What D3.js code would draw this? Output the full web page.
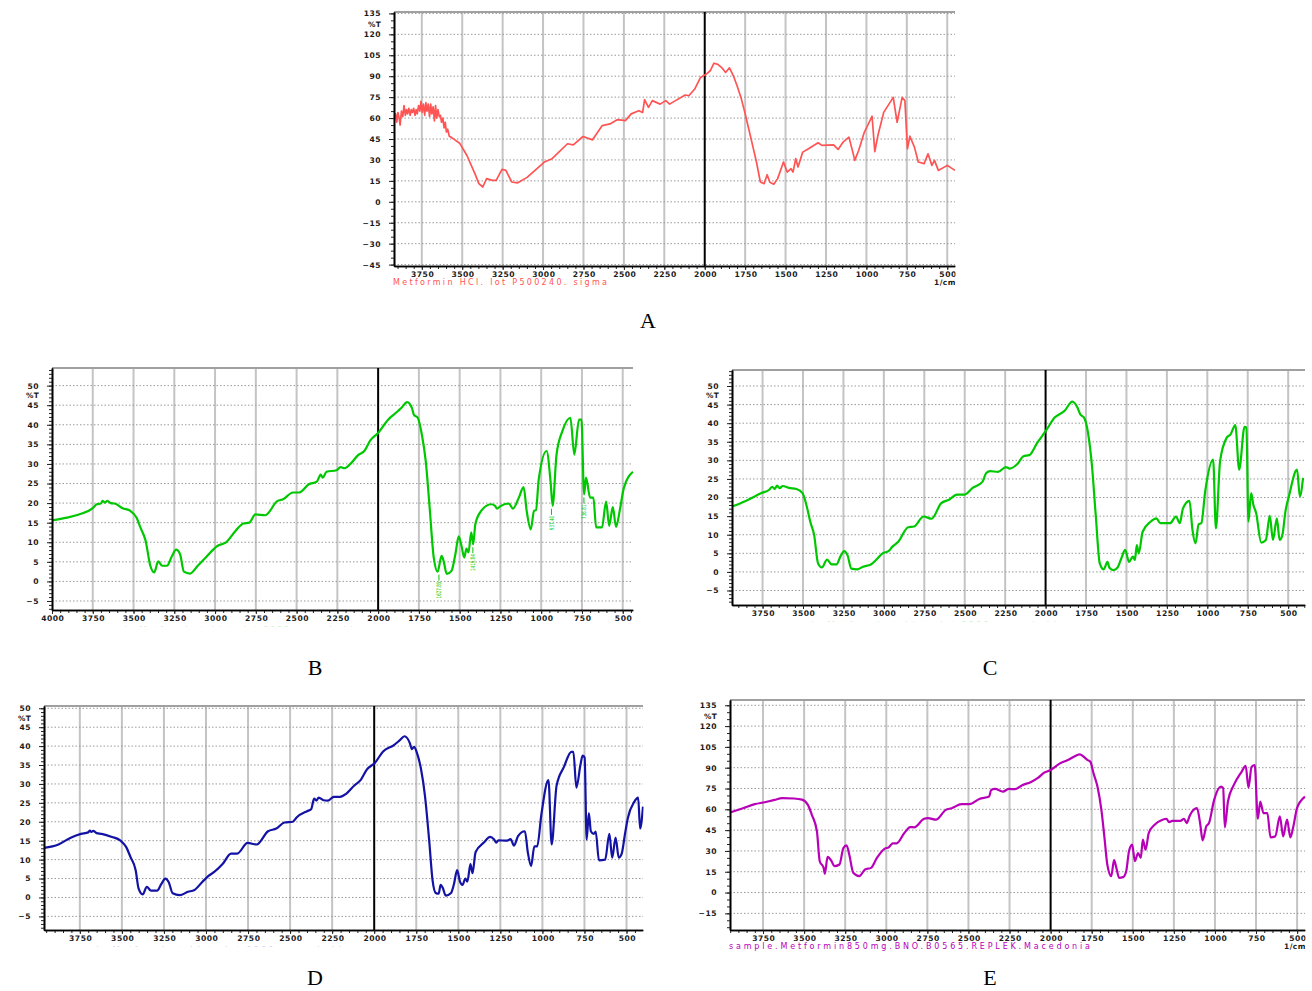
<!DOCTYPE html>
<html>
<head>
<meta charset="utf-8">
<script src="https://cdn.jsdelivr.net/npm/d3@7"></script>
<style>
  body { margin: 0; background: #fff; }
  svg { display: block; }
</style>
</head>
<body>
<svg id="graf" width="1312" height="991"></svg>
<script>

//#######################################
//   datos: espectros IR (cm-1, %T)
//#######################################

// A: Metformin HCl (estandar)
const specA = [
  [3920,59],[3912,63],[3905,57],[3898,64],[3890,60],[3884,55],[3876,65],[3868,61],[3860,69],[3852,62],
  [3845,66],[3838,63],[3830,67],[3822,62],[3815,66],[3808,64],[3800,67],[3792,62],[3785,66],[3778,63],
  [3770,69],[3762,65],[3755,72],[3748,64],[3740,70],[3732,62],[3725,71],[3718,65],[3710,70],[3702,61],
  [3695,70],[3688,63],[3680,68],[3672,58],[3665,69],[3658,60],[3650,66],[3642,61],[3635,62],[3628,57],
  [3620,60],[3612,53],[3605,57],[3598,50],[3590,52],[3580,47],[3565,46],
  [3516,42],[3470,33],[3421,20],[3397,13],[3373,10.6],[3349,16.6],[3314,15.4],[3290,15.4],[3254,23.2],
  [3230,22.5],[3194,14.2],[3159,13.5],[3099,17.5],[2992,28.5],[2944,30.9],[2849,41.6],[2813,40.8],
  [2753,46.8],[2694,44.4],[2634,54.6],[2586,55.8],[2539,58.9],[2491,58.2],[2455,63],[2408,65.3],
  [2384,64],[2372,73.2],[2348,67.7],[2324,72.5],[2276,70],[2241,72.5],[2217,70],[2181,72.5],
  [2121,76.5],[2098,76],[2062,80.8],[2026,89.1],[1990,91.5],[1966,93.9],[1943,99.3],[1919,98.5],
  [1895,96.2],[1871,92.7],[1847,96],[1823,90.3],[1800,83.2],[1776,74.8],[1752,64.1],[1728,52.3],
  [1704,40.4],[1680,28.5],[1656,14.2],[1633,13],[1614,19.4],[1597,14],[1573,12.6],[1549,16.6],
  [1513,28.5],[1490,21.3],[1466,23.7],[1454,21.3],[1437,30.9],[1423,25],[1394,35.6],[1358,38],
  [1299,42.3],[1275,40.4],[1203,40.8],[1175,37.5],[1144,42.8],[1108,46.3],[1084,35.6],[1072,29.7],
  [1048,36.8],[1013,49.8],[965,61.3],[948,36],[929,47.5],[893,64.1],[834,74.8],[810,57],[779,74.8],
  [762,72.5],[746,38],[731,47],[703,39.2],[679,28.5],[643,27.4],[619,34.4],[595,26.1],[579,29.7],
  [555,22.5],[500,26.1],[452,22.5]
]

// B: muestra (verde, con picos marcados)
const specB = [
  [4000,15.6],[3908,16.3],[3835,17.1],[3750,18.7],[3725,19.7],[3700,19.9],[3690,20.6],[3677,20.1],
  [3660,20.6],[3640,20],[3616,19.9],[3567,18.7],[3519,18],[3482,16.3],[3458,13.8],[3426,10.4],
  [3397,4],[3373,2.3],[3349,5.1],[3324,4],[3295,4],[3264,6.5],[3239,8.1],[3215,7],[3191,2.5],
  [3154,2],[3106,4],[3057,6.1],[2984,9.1],[2935,9.9],[2875,12.9],[2826,14.8],[2790,15],[2753,17.1],
  [2692,16.9],[2619,20.5],[2583,21],[2522,22.7],[2486,22.7],[2425,24.8],[2376,25.5],[2352,27.3],
  [2340,26.5],[2316,28],[2255,28.4],[2230,29.2],[2206,28.9],[2170,30],[2121,32.3],[2085,33.3],
  [2048,36],[2000,37.9],[1939,41.3],[1878,43.5],[1854,44.5],[1822,45.8],[1793,44.3],[1781,42.6],
  [1757,41.8],[1732,37.5],[1708,30.7],[1684,18.8],[1659,6.1],[1635,2.5],[1611,6.5],[1599,5.3],
  [1579,1.9],[1550,2.7],[1526,7],[1506,11.5],[1489,9.1],[1472,6.1],[1458,8.4],[1446,7.4],
  [1429,12.5],[1417,9.5],[1404,14.6],[1368,18],[1307,19.7],[1283,19.3],[1271,18.6],[1247,19.3],
  [1198,19.9],[1174,18.6],[1137,21.4],[1108,24.1],[1089,18],[1064,13.3],[1044,18],[1032,18.2],
  [1015,26.1],[967,33.3],[942,25.2],[930,19.3],[906,32.4],[870,38.4],[821,41.8],[797,32.4],
  [768,41.3],[753,41.3],[737,22.2],[725,26.5],[700,21.4],[680,21.4],[663,13.8],[627,13.8],
  [602,20.4],[583,14.2],[561,19],[541,13.9],[517,18.4],[493,23.9],[437,28]
]

// C: muestra (verde)
const specC = [
  [3939,17.6],[3854,19.1],[3757,21.2],[3709,22.1],[3690,22.9],[3675,22.3],[3660,23.2],[3645,22.5],
  [3625,23.1],[3588,22.6],[3540,22.3],[3503,21.2],[3479,18],[3455,13.5],[3431,9.9],[3407,2.3],
  [3383,1.2],[3351,3.3],[3322,2],[3293,2],[3269,4.1],[3245,5.6],[3225,4.5],[3201,0.9],[3165,0.7],
  [3129,1.4],[3080,2],[3044,3.4],[3008,5],[2971,5.6],[2947,6.8],[2911,8.1],[2850,12],[2814,12.2],
  [2754,14.9],[2705,14.3],[2645,18.5],[2597,19.4],[2548,20.8],[2500,20.8],[2451,22.6],[2391,24.2],
  [2367,26.6],[2343,27.1],[2294,26.9],[2246,28.2],[2222,27.8],[2173,29.1],[2137,31.1],[2101,31.4],
  [2052,34.7],[1999,37.9],[1944,41.5],[1883,43.3],[1835,45.8],[1803,44.2],[1786,42.4],[1762,41.5],
  [1738,37.5],[1714,28.9],[1690,15.3],[1665,2.3],[1641,0.7],[1617,2.7],[1605,1.1],[1581,0.5],
  [1556,1.1],[1532,3.6],[1508,5.9],[1484,2.7],[1460,4.1],[1448,3.2],[1436,7.2],[1424,5],
  [1400,10.8],[1351,13.5],[1315,14.4],[1291,13.1],[1230,13.1],[1194,14.9],[1170,13.1],[1151,17],
  [1110,19.1],[1093,11.7],[1073,7.7],[1054,12.8],[1037,13.1],[1013,21.7],[964,30.2],[947,11.7],
  [921,29.8],[880,36.1],[856,37],[827,39.5],[803,27.5],[770,39],[758,38.8],[746,13.5],[729,21.2],
  [715,18],[698,15.8],[667,7.9],[638,8.6],[614,15.1],[594,8.6],[570,14.4],[553,8.6],[536,9.9],
  [517,16.2],[493,20.8],[445,27.5],[428,20.3],[408,25.3]
]

// D: muestra (azul)
const specD = [
  [3963,13.1],[3877,14],[3804,15.8],[3743,16.8],[3700,17.2],[3690,17.7],[3682,17.3],[3670,17.6],
  [3650,17],[3620,16.8],[3559,16],[3510,15.1],[3474,13.3],[3449,10.7],[3418,7.2],[3401,2.4],
  [3376,0.8],[3352,2.8],[3327,1.8],[3291,1.8],[3266,3.5],[3242,5],[3222,4.1],[3198,1.1],[3156,0.6],
  [3107,1.5],[3071,1.9],[3022,4.1],[2985,5.7],[2949,6.8],[2900,8.9],[2851,11.6],[2814,11.6],
  [2753,14.4],[2699,14],[2631,17.5],[2582,18.2],[2533,19.8],[2484,20],[2460,21.2],[2399,22.8],
  [2375,23.3],[2357,26.1],[2343,25.6],[2330,26.4],[2301,25.7],[2276,25.6],[2240,26.6],[2203,26.6],
  [2167,27.4],[2118,29.6],[2081,31],[2044,33.8],[1995,35.6],[1947,38.6],[1885,40.2],[1849,41.5],
  [1820,42.6],[1788,40.8],[1776,39.2],[1763,39.8],[1746,38.2],[1722,34],[1698,26.8],[1673,15],
  [1653,4.5],[1634,1.2],[1617,1],[1605,3.3],[1592,2.5],[1575,0.5],[1543,1.2],[1526,3.5],[1507,7.2],
  [1490,4.2],[1475,3.3],[1458,5],[1446,4.2],[1428,8.8],[1416,6.4],[1397,12],[1348,14.5],[1311,16],
  [1287,15.3],[1274,14.5],[1262,15.1],[1213,15],[1189,15.4],[1169,13.7],[1145,16.2],[1104,17.5],
  [1087,12],[1067,8.3],[1048,13.5],[1031,13.5],[1006,22],[964,31],[945,14],[916,29.5],[872,34.5],
  [828,38.5],[816,38.5],[798,29],[774,35],[761,37.5],[749,37],[737,15.3],[724,22.3],[712,17.5],
  [695,16.8],[683,17.4],[664,9.8],[627,10],[602,16.8],[585,10.5],[565,15.8],[546,10.5],[529,11.5],
  [509,16.8],[492,21],[455,25.2],[431,26.4],[419,18.2],[402,24]
]

// E: Metformin 850 mg (magenta)
const specE = [
  [3951,57.7],[3872,60.8],[3800,63.7],[3740,65.1],[3680,66.8],[3633,68],[3561,67.8],[3513,67],
  [3477,63.2],[3453,56],[3422,44.1],[3405,22.6],[3381,17.8],[3374,13.5],[3357,25.7],[3333,22.6],
  [3316,19],[3285,20.2],[3261,32.1],[3242,34],[3225,27.3],[3201,14.2],[3165,11.8],[3129,16.6],
  [3093,17.8],[3057,25],[3009,31.7],[2985,32.6],[2961,35.5],[2937,35.5],[2890,42.9],[2854,47.2],
  [2830,47],[2770,53.2],[2746,53.7],[2698,52.5],[2638,59.6],[2602,60.8],[2542,63.7],[2494,63.7],
  [2434,67.5],[2374,69.2],[2362,74],[2338,74.7],[2290,72.8],[2254,74.7],[2218,74.5],[2170,77.6],
  [2122,79.5],[2075,82.8],[2039,86.4],[2000,88.3],[1943,93.1],[1895,95.5],[1859,97.9],[1823,99.6],
  [1799,97.9],[1775,95.5],[1758,94.3],[1739,86],[1715,76.4],[1691,59.6],[1672,39.3],[1655,20.2],
  [1631,11.8],[1614,23.3],[1600,17.8],[1583,10.6],[1559,11.1],[1540,15.4],[1523,29.7],[1504,34.5],
  [1487,22.6],[1468,28.5],[1451,25],[1439,38.1],[1422,30.9],[1403,42.9],[1367,48.9],[1319,52.5],
  [1295,53.2],[1279,50.8],[1259,51.7],[1211,51.7],[1188,53.2],[1172,50.1],[1153,55.6],[1109,60.8],
  [1089,48.9],[1075,37.6],[1053,47.7],[1036,50.1],[1005,66.8],[964,76.4],[950,75.2],[940,47],
  [921,65.6],[885,77.6],[837,87.2],[813,91.4],[796,75.7],[777,90.7],[758,91.9],[739,53.2],
  [724,65.6],[705,57.3],[681,57.3],[662,39.8],[633,40.5],[605,54.9],[585,40.5],[561,52.5],
  [541,39.8],[525,46.5],[501,60.8],[477,66.1],[452,69.2]
]

// picos marcados en B: [numero de onda, %T en el minimo, etiqueta]
const picosB = [
  [1627, 2.5, "1627.85"],
  [1419, 9.5, "1419.84"],
  [937, 19.3, "937.40"],
  [738, 22.2, "736.81"]
]

// etiquetas de ejes
const xTicks = [4000, 3750, 3500, 3250, 3000, 2750, 2500, 2250, 2000, 1750, 1500, 1250, 1000, 750, 500]
const yTicksAmplio = [-45, -30, -15, 0, 15, 30, 45, 60, 75, 90, 105, 120, 135]
const yTicksCorto = [-5, 0, 5, 10, 15, 20, 25, 30, 35, 40, 45, 50]

const letras = ["A", "B", "C", "D", "E"]
const muestraA = "Metformin HCl. lot  P500240. sigma"
const muestraE = "sample.Metformin850mg.BNO.B0565.REPLEK.Macedonia"
const muestraOculta = "sample.Metformin.tablets.lot.0000.comprimidos"

//#######################################
//   disposicion de los paneles
//#######################################
const paneles = [
  { id: "A", data: specA, color: "#ff5454", sw: 1.7, box: { x: 394, y: 12, w: 561, h: 254 },
    xDom: [3922, 452], yDom: [-46, 136], yTicks: yTicksAmplio, yMinor: 5,
    letra: [648, 328], nota: { text: muestraA, len: 214 }, unidad: true },
  { id: "B", data: specB, color: "#00c800", sw: 2.2, box: { x: 52, y: 368, w: 581, h: 242 },
    xDom: [4000, 437], yDom: [-7.3, 54.5], yTicks: yTicksCorto, yMinor: 1,
    letra: [315, 675], oculta: { x: 95, len: 270 }, picos: picosB },
  { id: "C", data: specC, color: "#00c800", sw: 2.2, box: { x: 732, y: 370, w: 573, h: 235 },
    xDom: [3939, 396], yDom: [-8.9, 54.3], yTicks: yTicksCorto, yMinor: 1,
    letra: [990, 675], oculta: { x: 780, len: 290 } },
  { id: "D", data: specD, color: "#1212a4", sw: 2.2, box: { x: 44, y: 706, w: 599, h: 224 },
    xDom: [3963, 402], yDom: [-8.6, 50.6], yTicks: yTicksCorto, yMinor: 1,
    letra: [315, 985], oculta: { x: 65, len: 290, color: "#3030e0" } },
  { id: "E", data: specE, color: "#b800b8", sw: 2.2, box: { x: 730, y: 700, w: 575, h: 230 },
    xDom: [3951, 452], yDom: [-27, 138.8], yTicks: yTicksAmplio, yMinor: 5,
    letra: [990, 985], nota: { text: muestraE, len: 361 }, unidad: true }
]

const svg = d3.select("#graf")
const defs = svg.append("defs")
const fuente = '"DejaVu Sans", Verdana, sans-serif'
const fmt = d3.format("d")

//#######################################
//   funcion de graficado de un panel
//#######################################
const dibujar = (p) => {
  const b = p.box
  const x = d3.scaleLinear().domain(p.xDom).range([b.x, b.x + b.w])
  const y = d3.scaleLinear().domain(p.yDom).range([b.y + b.h, b.y])
  const dentroX = (t) => t <= p.xDom[0] && t >= p.xDom[1]
  const dentroY = (t) => t >= p.yDom[0] && t <= p.yDom[1]

  // recorte a la derecha del panel (etiquetas cortadas como en el original)
  defs.append("clipPath").attr("id", "clip" + p.id)
    .append("rect")
    .attr("x", 0).attr("y", b.y - 20)
    .attr("width", b.x + b.w + 0.5).attr("height", b.h + 60)

  const g = svg.append("g").attr("clip-path", `url(#clip${p.id})`)

  // rejilla vertical
  g.selectAll(".vgrid")
    .data(xTicks.filter(t => dentroX(t) && t !== 2000 && t < p.xDom[0] - 5))
    .join("line")
    .attr("x1", d => x(d)).attr("x2", d => x(d))
    .attr("y1", b.y).attr("y2", b.y + b.h)
    .attr("stroke", "#c4c4c4").attr("stroke-width", 2)

  // rejilla horizontal punteada
  g.selectAll(".hgrid")
    .data(p.yTicks.filter(dentroY))
    .join("line")
    .attr("x1", b.x).attr("x2", b.x + b.w)
    .attr("y1", d => y(d)).attr("y2", d => y(d))
    .attr("stroke", "#9a9a9a").attr("stroke-width", 1)
    .attr("stroke-dasharray", "1.5,2")

  // borde superior
  g.append("line")
    .attr("x1", b.x).attr("x2", b.x + b.w)
    .attr("y1", b.y).attr("y2", b.y)
    .attr("stroke", "#a0a0a0").attr("stroke-width", 2)

  // linea de 2000 cm-1
  g.append("line")
    .attr("x1", x(2000)).attr("x2", x(2000))
    .attr("y1", b.y).attr("y2", b.y + b.h)
    .attr("stroke", "#000").attr("stroke-width", 2)

  // espectro (numero de onda decreciente = x creciente en pantalla)
  const linea = d3.line()
    .x(d => x(d[0])).y(d => y(d[1]))
    .curve(p.id === "A" ? d3.curveLinear : d3.curveMonotoneX)
  g.append("path")
    .datum(p.data)
    .attr("d", linea)
    .attr("fill", "none")
    .attr("stroke", p.color)
    .attr("stroke-width", p.sw)
    .attr("stroke-linejoin", "round")

  // eje X: marcas menores cada 50
  const menoresX = d3.range(4000, 399, -50).filter(dentroX)
  g.append("g")
    .attr("transform", `translate(0, ${b.y + b.h})`)
    .call(d3.axisBottom(x).tickValues(menoresX).tickSize(3).tickSizeOuter(0).tickFormat(""))
  const ejeX = g.append("g")
    .attr("transform", `translate(0, ${b.y + b.h})`)
    .call(d3.axisBottom(x).tickValues(xTicks.filter(dentroX)).tickSize(4).tickSizeOuter(0)
      .tickPadding(2).tickFormat(fmt))

  // eje Y
  const menoresY = d3.range(Math.ceil(p.yDom[0] / p.yMinor) * p.yMinor, p.yDom[1], p.yMinor)
  g.append("g")
    .attr("transform", `translate(${b.x}, 0)`)
    .call(d3.axisLeft(y).tickValues(menoresY).tickSize(3).tickSizeOuter(0).tickFormat(""))
  const ejeY = g.append("g")
    .attr("transform", `translate(${b.x}, 0)`)
    .call(d3.axisLeft(y).tickValues(p.yTicks.filter(dentroY)).tickSize(5).tickSizeOuter(0)
      .tickPadding(8).tickFormat(fmt))

  g.selectAll(".domain").attr("stroke", "#000").attr("stroke-width", 1.6)
  g.selectAll(".tick line").attr("stroke", "#222")
  ;[ejeX, ejeY].forEach(e => e.selectAll("text")
    .attr("font-family", fuente)
    .attr("font-size", 7.6)
    .attr("font-weight", "bold")
    .attr("letter-spacing", 0.5)
    .attr("fill", "#1a1a1a"))
  ejeX.selectAll("text").attr("dx", 0.3)

  // %T entre las dos primeras etiquetas
  const tk = p.yTicks.filter(dentroY)
  const yT = (tk[tk.length - 1] + tk[tk.length - 2]) / 2
  g.append("text")
    .attr("x", b.x - 13).attr("y", y(yT) + 3)
    .attr("text-anchor", "end")
    .attr("font-family", fuente).attr("font-size", 7.4)
    .attr("font-weight", "bold")
    .attr("letter-spacing", 0.3)
    .attr("fill", "#1a1a1a")
    .text("%T")

  // nombre de la muestra y unidad
  const yNota = b.y + b.h + 19
  if (p.nota) {
    g.append("text")
      .attr("x", b.x - 1).attr("y", yNota)
      .attr("font-family", fuente).attr("font-size", 8)
      .attr("textLength", p.nota.len).attr("lengthAdjust", "spacing")
      .attr("fill", p.color)
      .text(p.nota.text)
  }
  if (p.unidad) {
    g.append("text")
      .attr("x", b.x + b.w - 21).attr("y", yNota)
      .attr("font-family", fuente).attr("font-size", 7.4)
      .attr("font-weight", "bold")
      .attr("letter-spacing", 0.5)
      .attr("fill", "#1a1a1a")
      .text("1/cm")
  }

  // texto de muestra cortado (solo se ve su borde superior)
  if (p.oculta) {
    const yo = b.y + b.h + 15
    defs.append("clipPath").attr("id", "oc" + p.id)
      .append("rect").attr("x", 0).attr("y", yo).attr("width", 1312).attr("height", 1.6)
    svg.append("text")
      .attr("clip-path", `url(#oc${p.id})`)
      .attr("x", p.oculta.x).attr("y", yo + 7.5)
      .attr("font-family", fuente).attr("font-size", 9)
      .attr("textLength", p.oculta.len).attr("lengthAdjust", "spacing")
      .attr("fill", p.oculta.color || p.color)
      .attr("opacity", 0.45)
      .text(muestraOculta)
  }

  // picos marcados (texto vertical)
  if (p.picos) {
    const pk = g.selectAll(".pico").data(p.picos).join("g")
    pk.append("line")
      .attr("x1", d => x(d[0])).attr("x2", d => x(d[0]))
      .attr("y1", d => y(d[1]) + 3).attr("y2", d => y(d[1]) + 9)
      .attr("stroke", p.color).attr("stroke-width", 1)
    pk.append("text")
      .attr("transform", d => `translate(${x(d[0]) + 2.3}, ${y(d[1]) + 10}) rotate(-90)`)
      .attr("text-anchor", "end")
      .attr("font-family", fuente).attr("font-size", 6.2)
      .attr("textLength", d => d[2].length * 2.4).attr("lengthAdjust", "spacingAndGlyphs")
      .attr("fill", p.color)
      .text(d => d[2])
  }

  // letra del panel
  svg.append("text")
    .attr("x", p.letra[0]).attr("y", p.letra[1])
    .attr("text-anchor", "middle")
    .attr("font-family", '"Liberation Serif", "DejaVu Serif", serif')
    .attr("font-size", 22)
    .attr("fill", "#000")
    .text(letras[paneles.indexOf(p)])
}

paneles.forEach(dibujar)

</script>
</body>
</html>
